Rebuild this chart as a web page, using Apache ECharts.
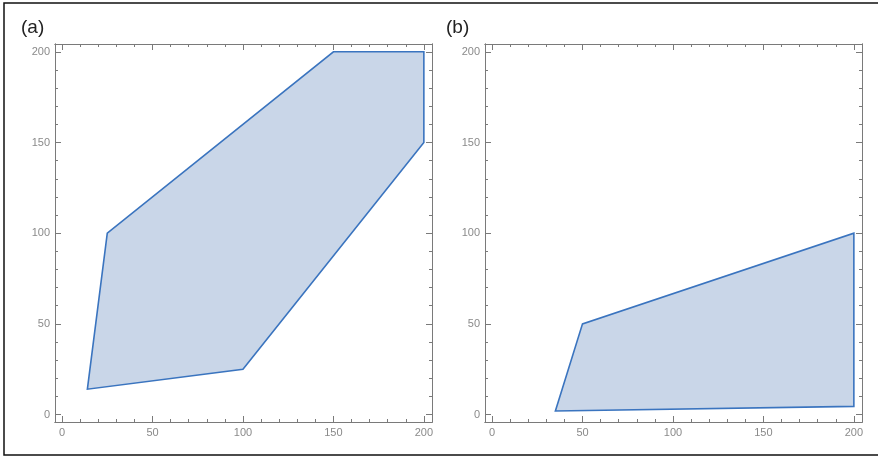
<!DOCTYPE html>
<html>
<head>
<meta charset="utf-8">
<script src="https://cdn.jsdelivr.net/npm/echarts@6/dist/echarts.min.js"></script>
<style>
  html, body { margin: 0; padding: 0; background: #fff; }
  #chart { width: 878px; height: 456px; }
</style>
</head>
<body>
<div id="chart"></div>
<script>
// tick values shared by both panels
const majorTicks = [0, 50, 100, 150, 200];
const minorTicks = [10, 20, 30, 40, 60, 70, 80, 90, 110, 120, 130, 140, 160, 170, 180, 190];
// polygon vertices (x, y)
const polyA = [[14, 14], [25, 100], [150, 200], [200, 200], [200, 150], [100, 25]];
const polyB = [[35, 2], [50, 50], [200, 100], [200, 4.5]];
const panelLabels = ['(a)', '(b)'];

const frameColor = '#7a7a7a';
const fillColor = '#c9d6e8';
const edgeColor = '#3a74bf';

// one axis = frame side + ticks (labels only on bottom/left major)
function mkAxis(grid, pos, ticks, len, labels, isX) {
    return {
        type: 'value',
        gridIndex: grid,
        position: pos,
        min: isX ? -3.9 : -4.1,
        max: isX ? 204.5 : 204.3,
        axisLine: {show: true, onZero: false, lineStyle: {color: frameColor, width: 1}},
        axisTick: {show: true, inside: true, length: len, customValues: ticks, lineStyle: {color: frameColor, width: 1}},
        axisLabel: {show: labels, customValues: majorTicks, margin: 5, color: '#8a8a8a', fontSize: 11, fontFamily: 'Liberation Sans'},
        splitLine: {show: false}
    };
}

const xAxis = [], yAxis = [];
[0, 1].forEach(g => {
    // main axes first so the series can refer to them
    xAxis.push(mkAxis(g, 'bottom', majorTicks, 6, true, true));
    yAxis.push(mkAxis(g, 'left', majorTicks, 6, true, false));
    xAxis.push(mkAxis(g, 'bottom', minorTicks, 3, false, true));
    xAxis.push(mkAxis(g, 'top', majorTicks, 6, false, true));
    xAxis.push(mkAxis(g, 'top', minorTicks, 3, false, true));
    yAxis.push(mkAxis(g, 'left', minorTicks, 3, false, false));
    yAxis.push(mkAxis(g, 'right', majorTicks, 6, false, false));
    yAxis.push(mkAxis(g, 'right', minorTicks, 3, false, false));
});

function polySeries(pts, g) {
    return {
        type: 'custom',
        xAxisIndex: g * 4,
        yAxisIndex: g * 4,
        data: pts,
        encode: {x: 0, y: 1},
        clip: false,
        renderItem: function (params, api) {
            if (params.dataIndex !== 0) return null;
            return {
                type: 'polygon',
                shape: {points: pts.map(p => api.coord(p))},
                style: {fill: fillColor, stroke: edgeColor, lineWidth: 1.6}
            };
        }
    };
}

const chart = echarts.init(document.getElementById('chart'), null, {renderer: 'canvas'});
chart.setOption({
    backgroundColor: '#fff',
    animation: false,
    grid: [
        {left: 55, top: 44, width: 377, height: 378},
        {left: 485, top: 44, width: 377, height: 378}
    ],
    xAxis: xAxis,
    yAxis: yAxis,
    series: [polySeries(polyA, 0), polySeries(polyB, 1)],
    graphic: [
        {type: 'rect', shape: {x: 4, y: 3, width: 890, height: 452}, style: {fill: 'none', stroke: '#111', lineWidth: 1.5}},
        {type: 'text', left: 21, top: 18, style: {text: panelLabels[0], fontSize: 19, fill: '#222', fontFamily: 'Liberation Sans'}},
        {type: 'text', left: 446, top: 18, style: {text: panelLabels[1], fontSize: 19, fill: '#222', fontFamily: 'Liberation Sans'}}
    ]
});
</script>
</body>
</html>
